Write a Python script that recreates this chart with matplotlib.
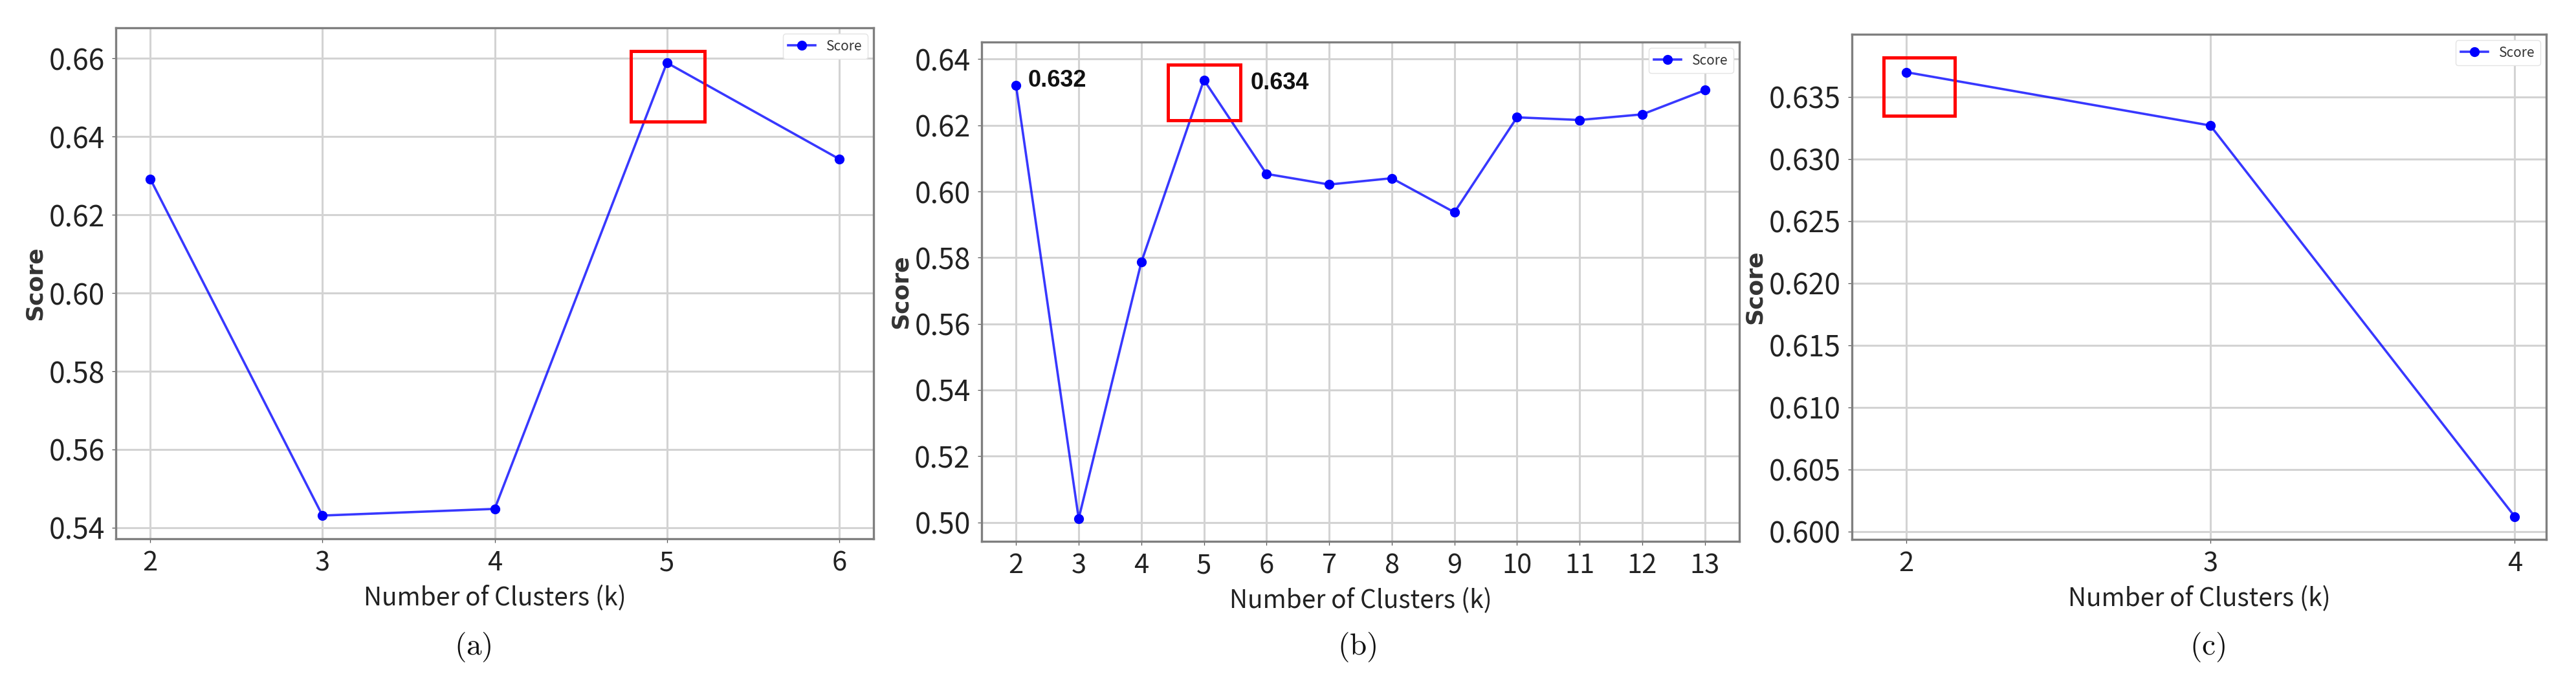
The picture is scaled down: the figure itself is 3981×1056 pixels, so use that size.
#!/usr/bin/env python3
"""Score vs number of clusters (k) for three clusterings, panels (a)-(c)."""
import matplotlib
matplotlib.use("Agg")
import matplotlib.pyplot as plt
from matplotlib.patches import Rectangle

# ---- values ----
k_a = [2, 3, 4, 5, 6]
score_a = [0.6292, 0.5431, 0.5448, 0.6589, 0.6343]
yticks_a = [0.54, 0.56, 0.58, 0.60, 0.62, 0.64, 0.66]

k_b = [2, 3, 4, 5, 6, 7, 8, 9, 10, 11, 12, 13]
score_b = [0.6320, 0.5011, 0.5786, 0.6337, 0.6053, 0.6021,
           0.6040, 0.5937, 0.6224, 0.6216, 0.6233, 0.6306]
yticks_b = [0.50, 0.52, 0.54, 0.56, 0.58, 0.60, 0.62, 0.64]

k_c = [2, 3, 4]
score_c = [0.6370, 0.6327, 0.6012]
yticks_c = [0.600, 0.605, 0.610, 0.615, 0.620, 0.625, 0.630, 0.635]

# red highlight boxes (x0, y0, width, height) in data units
box_a = (4.79, 0.6439, 0.43, 0.0180)
box_b = (4.43, 0.6215, 1.15, 0.0168)
box_c = (1.926, 0.6335, 0.234, 0.0047)

# value labels in panel (b): index into k_b, text
labels_b = [(0, "0.632"), (3, "0.634")]
label_offsets_b = [(18, 8), (72, -5)]   # pixels from the point

captions = ["(a)", "(b)", "(c)"]

W, H = 3981, 1056
NARROW = ["Liberation Sans Narrow", "Noto Sans CJK SC", "DejaVu Sans"]

plt.rcParams["mathtext.fontset"] = "cm"


def draw_panel(ax, ks, scores, yticks, fmt, box):
    line_rgba = (0.0, 0.0, 1.0, 0.78)
    ax.plot(ks, scores, color=line_rgba, lw=2.6, marker="o", ms=10,
            mfc="blue", mec="blue", label="Score", zorder=3)
    ax.add_patch(Rectangle(box[:2], box[2], box[3], fill=False,
                           edgecolor="red", lw=3.6, zorder=4))
    ax.set_xticks(ks)
    ax.set_yticks(yticks)
    ax.set_yticklabels([fmt % v for v in yticks])
    ax.grid(True, color="#d3d3d3", lw=2.2)
    ax.set_axisbelow(True)
    for sp in ax.spines.values():
        sp.set_color("#7f7f7f")
        sp.set_linewidth(2.4)
    ax.tick_params(length=4.5, width=0.9, color="#555555", pad=8,
                   labelcolor="#222222")
    for t in ax.get_yticklabels():
        t.set_fontfamily(NARROW)
        t.set_fontsize(32)
    for t in ax.get_xticklabels():
        t.set_fontfamily(NARROW)
        t.set_fontsize(30)
    ax.set_xlabel("Number of Clusters (k)", family=NARROW, fontsize=28,
                  color="#222222", labelpad=10)
    ax.set_ylabel("Score", family="DejaVu Sans", fontweight="bold",
                  fontsize=26, color="#333333", labelpad=3)
    leg = ax.legend(loc="upper right", prop={"family": NARROW, "size": 15},
                    borderaxespad=0.45, handlelength=2.0, fancybox=True,
                    framealpha=1.0, edgecolor="#e3e3e3")
    for t in leg.get_texts():
        t.set_color("#333333")


def main():
    fig = plt.figure(figsize=(W / 100, H / 100), dpi=100)

    # axes boxes in pixels: left, right, top, bottom
    boxes = [(179, 1350, 43, 833), (1517, 2688, 65, 837), (2862, 3935, 53, 834)]
    axes = []
    for l, r, t, b in boxes:
        axes.append(fig.add_axes([l / W, 1 - b / H, (r - l) / W, (b - t) / H]))
    ax_a, ax_b, ax_c = axes

    draw_panel(ax_a, k_a, score_a, yticks_a, "%.2f", box_a)
    draw_panel(ax_b, k_b, score_b, yticks_b, "%.2f", box_b)
    draw_panel(ax_c, k_c, score_c, yticks_c, "%.3f", box_c)

    for (i, txt), off in zip(labels_b, label_offsets_b):
        ax_b.annotate(txt, (k_b[i], score_b[i]), xytext=off,
                      textcoords="offset pixels", ha="left", va="center",
                      family="Liberation Sans", fontweight="bold",
                      fontsize=26, color="#111111", zorder=5)

    cap_x = [731, 2097, 3412]
    for cx, cap in zip(cap_x, captions):
        fig.text(cx / W, 1 - 1000 / H, r"$\mathrm{%s}$" % cap, ha="center",
                 va="center", fontsize=34, color="#111111")

    fig.savefig("out.png", dpi=100, facecolor="white")
    plt.close(fig)


if __name__ == "__main__":
    main()
